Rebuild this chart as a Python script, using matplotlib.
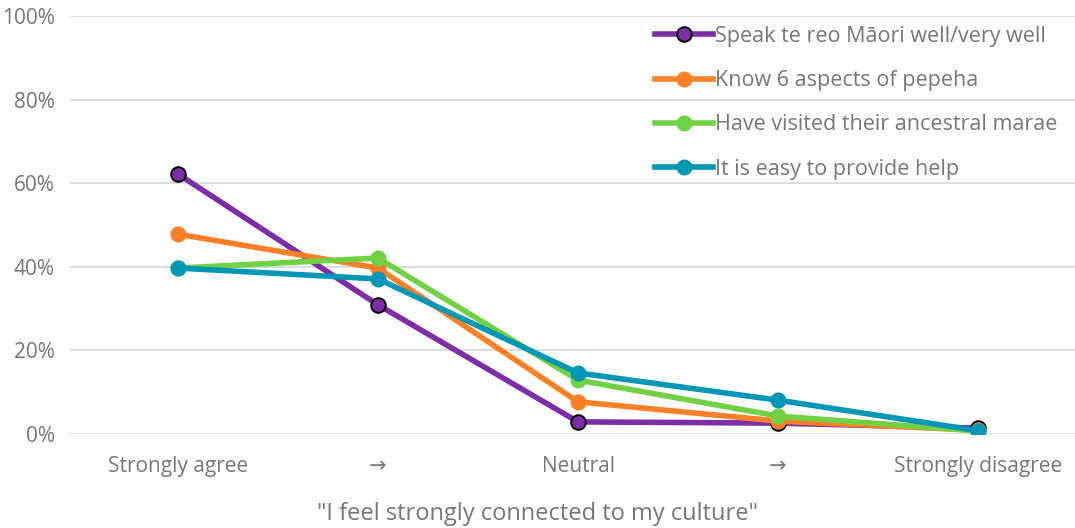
import matplotlib
matplotlib.use("Agg")
import matplotlib.pyplot as plt
from matplotlib.ticker import PercentFormatter

categories = ["Strongly agree", "\u2192", "Neutral", "\u2192", "Strongly disagree"]
series_names = ["Speak te reo M\u0101ori well/very well",
                "Know 6 aspects of pepeha",
                "Have visited their ancestral marae",
                "It is easy to provide help"]
speak = [62.2, 30.9, 2.9, 2.6, 1.4]
pepeha = [47.8, 39.7, 7.7, 3.1, 0.9]
marae = [39.7, 42.1, 12.9, 4.3, 0.7]
help_ = [39.7, 37.1, 14.6, 8.1, 0.8]
y_ticks = [0, 20, 40, 60, 80, 100]
x_title = "\"I feel strongly connected to my culture\""

colors = ["#7E2DA8", "#FF7F27", "#70D145", "#0096B6"]
gray = "#777777"
plt.rcParams['font.family'] = ['Open Sans', 'DejaVu Sans']

fig = plt.figure(figsize=(10.75, 5.28), dpi=100)
ax = fig.add_axes([70/1075, 1-434/528, 1-70/1075, (434-16)/528])

x = list(range(len(categories)))
for i, (vals, name) in enumerate(zip([speak, pepeha, marae, help_], series_names)):
    kw = dict(color=colors[i], lw=4.0, marker='o', markersize=10.5,
              markerfacecolor=colors[i], label=name, zorder=3 + i)
    if i == 0:
        kw['markeredgecolor'] = 'black'
        kw['markeredgewidth'] = 1.4
    else:
        kw['markeredgecolor'] = colors[i]
    ax.plot(x, vals, **kw)

ax.set_xlim(-0.54, 4.485)
ax.set_ylim(0, 100)
ax.set_yticks(y_ticks)
ax.yaxis.set_major_formatter(PercentFormatter(decimals=0))
ax.set_xticks(x)
ax.set_xticklabels(categories)
ax.grid(axis='y', color='#D9D9D9', lw=1.3, zorder=0)
ax.set_axisbelow(True)
for s in ax.spines.values():
    s.set_visible(False)
ax.tick_params(axis='both', length=0, colors=gray, labelsize=15)
ax.tick_params(axis='x', pad=16)
ax.tick_params(axis='y', pad=11)
ax.set_xlabel(x_title, color=gray, fontsize=17)
ax.xaxis.set_label_coords((537.5 - 70) / 1005, -(514 - 434) / 418, transform=ax.transAxes)
ax.xaxis.label.set_va('center')

leg = ax.legend(loc='upper left', bbox_to_anchor=(655/1075, 1-26/528),
                bbox_transform=fig.transFigure, frameon=False,
                fontsize=15.5, labelcolor=gray, handlelength=2.7,
                handletextpad=0.08, labelspacing=1.08, borderaxespad=0,
                borderpad=0)

fig.savefig("out.png", dpi=100, facecolor='white')
